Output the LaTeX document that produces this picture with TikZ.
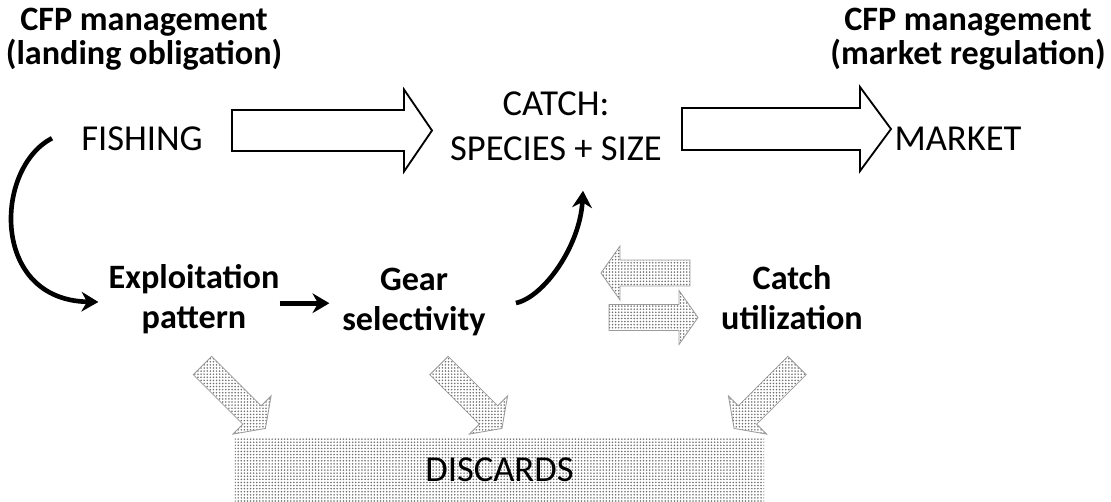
\documentclass[tikz,border=0pt]{standalone}
\usepackage{fontspec}
\setmainfont{Carlito}
\usetikzlibrary{arrows.meta,calc,patterns.meta}
\definecolor{cDot}{RGB}{110,110,110}
\definecolor{cEdge}{RGB}{155,155,155}
\tikzset{
  basetext/.style={align=center,inner sep=0pt},
  boldnode/.style={basetext,font=\fontsize{24.3}{28.3}\selectfont\bfseries},
  cfpnode/.style={basetext,font=\fontsize{24.3}{24.5}\selectfont\bfseries},
  plainnode/.style={basetext,font=\fontsize{26}{32}\selectfont},
  discbox/.style={plainnode,pattern={Dots[distance=2.2pt,radius=0.62pt]},
                  pattern color=cDot,minimum width=13.225cm,
                  minimum height=1.575cm},
  arr/.style={-{Stealth[length=12pt,width=14pt]},line width=3.3pt,color=black},
  hollowarr/.style={draw=black,line width=1.3pt,fill=white},
  dotarr/.style={draw=cEdge,line width=0.6pt,
                 pattern={Dots[distance=2.2pt,radius=0.62pt]},
                 pattern color=cDot}
}

\begin{document}
\begin{tikzpicture}[x=0.025cm,y=-0.025cm]
  \useasboundingbox (0,0) rectangle (1111,501);

  % text nodes
  \node[cfpnode] (cfpland) at (144,39) {CFP management\\(landing obligation)};
  \node[cfpnode] (cfpmarket) at (968,39) {CFP management\\(market regulation)};
  \node[plainnode,anchor=base] (fishing) at (142,150) {FISHING};
  \node[plainnode] (catch) at (556,126) {CATCH:\\SPECIES + SIZE};
  \node[plainnode,anchor=base] (market) at (958,150) {MARKET};
  \node[boldnode] (exploit) at (194,299) {Exploitation\\pattern};
  \node[boldnode] (gear) at (414,302) {Gear\\selectivity};
  \node[boldnode] (catchutil) at (792,298) {Catch\\utilization};
  \node[discbox] (discards) at (499.5,469.5) {DISCARDS};

  % hollow block arrows
  \draw[hollowarr,shift={(232,130.5)}] (0,-20.5) -- (172,-20.5) -- (172,-41)
    -- (200,0) -- (172,41) -- (172,20.5) -- (0,20.5) -- cycle;
  \draw[hollowarr,shift={(682,129)}] (0,-21) -- (178,-21) -- (178,-42)
    -- (209,0) -- (178,42) -- (178,21) -- (0,21) -- cycle;

  % dotted block arrows
  \foreach \px/\py/\ang in {202.5/365.5/-45,439/365.5/-45,797/365.5/-135,
                            690/273/180,609/317.5/0}
    \draw[dotarr,shift={(\px,\py)},rotate=\ang] (0,-13) -- (70,-13) -- (70,-27)
      -- (89,0) -- (70,27) -- (70,13) -- (0,13) -- cycle;

  % black arrows
  \draw[arr] ($(fishing.west)+(-29,0)$) .. controls +(-58,30) and +(-108,-2)
    .. ($(exploit.west)+(-10,3)$);
  \draw[arr,shorten >=9pt] ([yshift=-3pt]exploit.east)
    -- ([yshift=-3pt]exploit.east -| gear.west);
  \draw[arr] ($(gear.east)+(30,1)$) .. controls +(28,-6) and +(-3,55)
    .. ($(catch.south)+(27,30)$);
\end{tikzpicture}
\end{document}
